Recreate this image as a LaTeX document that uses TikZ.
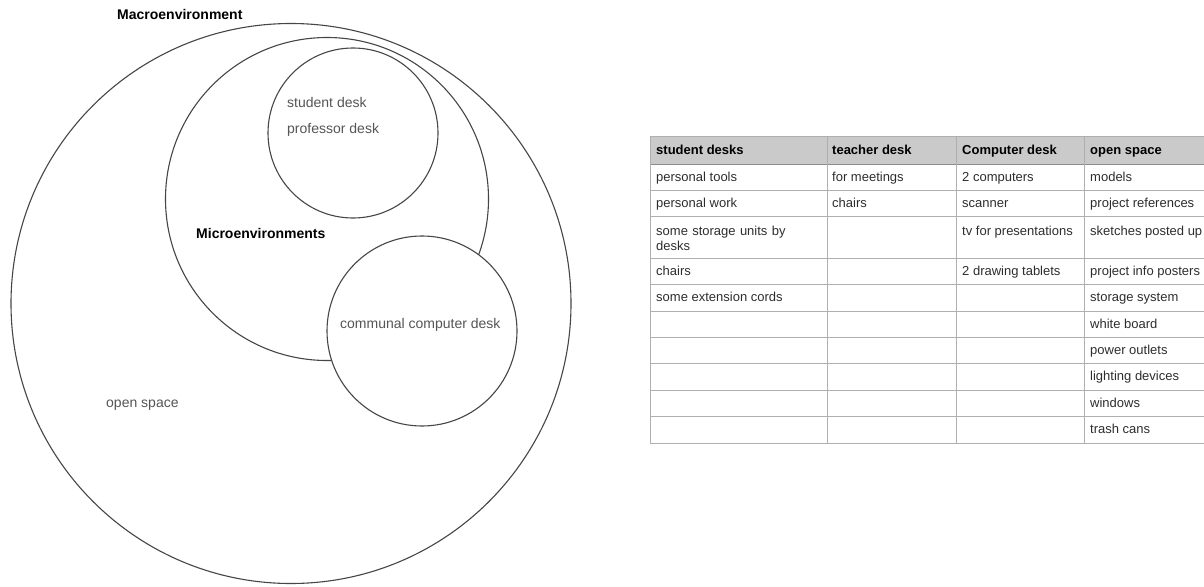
\documentclass[tikz,border=0pt]{standalone}
\usepackage{fontspec}
\setmainfont{Liberation Sans}
\definecolor{ringcol}{RGB}{70,70,70}
\definecolor{labelcol}{RGB}{85,85,85}
\definecolor{cellcol}{RGB}{45,45,45}
\definecolor{gridcol}{RGB}{175,175,175}
\definecolor{headfill}{RGB}{202,202,202}
\begin{document}
\begin{tikzpicture}[x=1pt,y=-1pt,
  ring/.style={circle, draw=ringcol, line width=1.1pt, inner sep=0pt, fill=white},
  lbl/.style={anchor=base west, text=labelcol, font=\fontsize{14}{16}\selectfont, inner sep=0pt},
  heading/.style={anchor=base west, text=black, font=\fontsize{14}{16}\selectfont\bfseries, inner sep=0pt},
  cell/.style={anchor=base west, text=cellcol, font=\fontsize{13}{15}\selectfont, inner sep=0pt},
  headcell/.style={cell, text=black, font=\fontsize{13}{15}\selectfont\bfseries},
  tabline/.style={draw=gridcol, line width=1pt}]
\useasboundingbox (0,0) rectangle (1204,586);
\clip (0,0) rectangle (1204,586);

% nested environment circles
\node[ring, minimum size=560pt] (macro) at (291,303.5) {};
\node[ring, minimum size=323pt] (micro) at (327,199) {};
\node[ring, minimum size=170pt] (studentring) at (353,133) {};
\node[ring, minimum size=190pt] (commonring) at (422,331) {};

% circle labels
\node[heading] (macrolbl) at (117,20) {Macroenvironment};
\node[heading] (microlbl) at (196,238) {Microenvironments};
\node[lbl] (student) at (287,107) {student desk};
\node[lbl] (professor) at (287,133) {professor desk};
\node[lbl] (communal) at (340,328) {communal computer desk};
\node[lbl] (openspace) at (106,407) {open space};

% table frame
\fill[headfill] (650,136) rectangle (1240,164);
\foreach \y in {136,164,190,216,258,284,311,337,363,390,416,443}
  \draw[tabline] (650,\y) -- (1240,\y);
\draw[tabline, draw=gridcol!80!black] (650,164) -- (1240,164);
\foreach \x in {650,827,956,1084}
  \draw[tabline] (\x,136) -- (\x,443);

% header row
\node[headcell] (h1) at (656,154) {student desks};
\node[headcell] (h2) at (832,154) {teacher desk};
\node[headcell] (h3) at (962,154) {Computer desk};
\node[headcell] (h4) at (1090,154) {open space};

% column: student desks
\node[cell] (a1) at (656,181) {personal tools};
\node[cell] (a2) at (656,207) {personal work};
\node[cell, text width=165pt, align=left] (a3) at (656,235) {some storage units by\\desks};
\node[cell] (a4) at (656,275) {chairs};
\node[cell] (a5) at (656,301.5) {some extension cords};

% column: teacher desk
\node[cell] (b1) at (832,181) {for meetings};
\node[cell] (b2) at (832,207) {chairs};

% column: computer desk
\node[cell] (c1) at (962,181) {2 computers};
\node[cell] (c2) at (962,207) {scanner};
\node[cell] (c3) at (962,235) {tv for presentations};
\node[cell] (c4) at (962,275) {2 drawing tablets};

% column: open space
\node[cell] (d1) at (1090,181) {models};
\node[cell] (d2) at (1090,207) {project references};
\node[cell] (d3) at (1090,235) {sketches posted up};
\node[cell] (d4) at (1090,275) {project info posters};
\node[cell] (d5) at (1090,301.5) {storage system};
\node[cell] (d6) at (1090,328) {white board};
\node[cell] (d7) at (1090,354) {power outlets};
\node[cell] (d8) at (1090,380.5) {lighting devices};
\node[cell] (d9) at (1090,407) {windows};
\node[cell] (d10) at (1090,433.5) {trash cans};
\end{tikzpicture}
\end{document}
